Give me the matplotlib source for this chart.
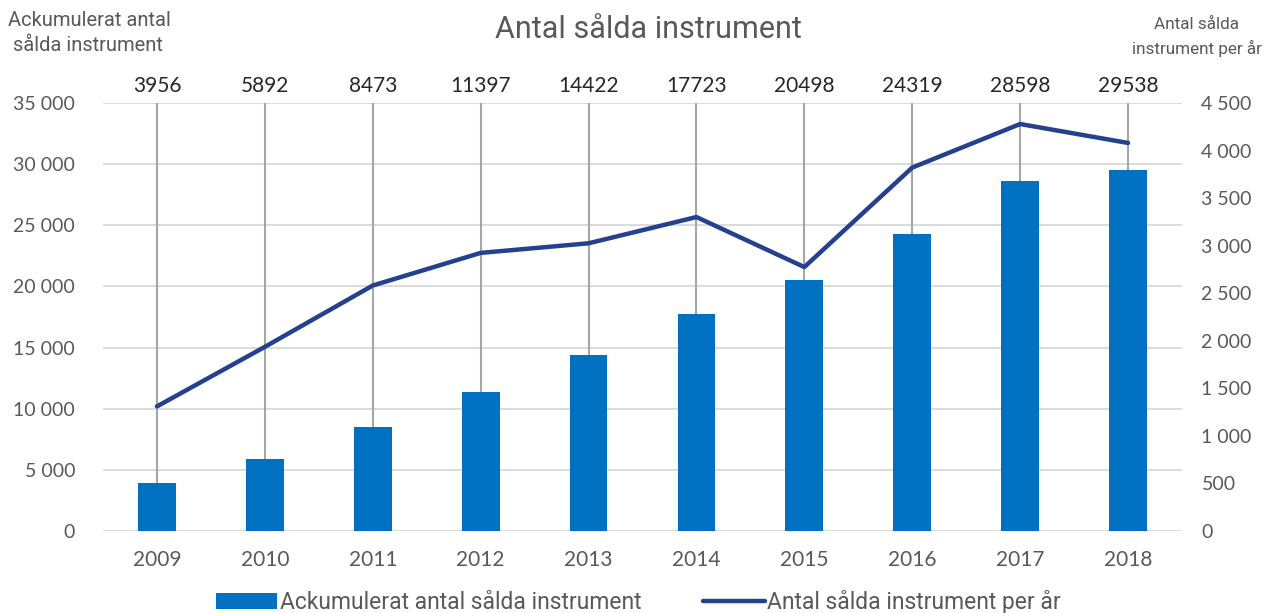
import matplotlib
matplotlib.use("Agg")
import matplotlib.pyplot as plt
from matplotlib.ticker import FuncFormatter, MultipleLocator

years = ["2009", "2010", "2011", "2012", "2013", "2014", "2015", "2016", "2017", "2018"]
cumulative = [3956, 5892, 8473, 11397, 14422, 17723, 20498, 24319, 28598, 29538]
per_year = [1310, 1936, 2581, 2924, 3025, 3301, 2775, 3821, 4279, 4080]

bar_color = "#0070C0"
line_color = "#24408E"
grid_color = "#D9D9D9"
tick_color = "#595959"

fig = plt.figure(figsize=(12.64, 6.13), dpi=100)
ax = fig.add_axes([103/1264, 1-531/613, (1182-103)/1264, (531-103)/613])
ax2 = ax.twinx()

x = list(range(len(years)))
ax.set_xlim(-0.5, len(years) - 0.5)
ax.set_ylim(0, 35000)
ax2.set_ylim(0, 4500)

ax.yaxis.set_major_locator(MultipleLocator(5000))
ax2.yaxis.set_major_locator(MultipleLocator(500))
fmt = FuncFormatter(lambda v, p: f"{int(v):,}".replace(",", " "))
ax.yaxis.set_major_formatter(fmt)
ax2.yaxis.set_major_formatter(fmt)

ax.grid(axis="y", color=grid_color, linewidth=1.3, zorder=0)
ax.set_axisbelow(True)

# drop lines from top to bar tops
ax.vlines(x, cumulative, 35000, color="#A6A6A6", linewidth=1.5, zorder=1)
ax.bar(x, cumulative, width=0.35, color=bar_color, zorder=2,
       label="Ackumulerat antal sålda instrument")
for xi, v in zip(x, cumulative):
    ax.text(xi, 35000 + 600, str(v), ha="center", va="bottom", fontsize=15,
            color="#262626", family="Lato")

ax2.plot(x, per_year, color=line_color, linewidth=3.2, solid_capstyle="round",
         zorder=3, label="Antal sålda instrument per år")

for a in (ax, ax2):
    for s in a.spines.values():
        s.set_visible(False)
    a.tick_params(length=0, labelsize=14, labelcolor=tick_color)
ax.tick_params(axis="y", pad=20)
ax2.tick_params(axis="y", pad=14)
ax.tick_params(axis="x", pad=14, labelsize=15)
ax.set_xticks(x)
ax.set_xticklabels(years)
for lab in ax.get_xticklabels() + ax.get_yticklabels() + ax2.get_yticklabels():
    lab.set_family("Lato")

fig.text(648/1264, 1-30/613, "Antal sålda instrument", ha="center", va="center",
         fontsize=22, color="#595959", family="Roboto")
fig.text(8/1264, 1-33/613, "Ackumulerat antal\n sålda instrument", ha="left", va="center",
         fontsize=14.5, color="#595959", family="Roboto", linespacing=1.4)
fig.text(1197/1264, 1-37/613, "Antal sålda\ninstrument per år", ha="center", va="center",
         fontsize=12.3, color="#595959", family="Roboto", linespacing=1.6)

h1, l1 = ax.get_legend_handles_labels()
h2, l2 = ax2.get_legend_handles_labels()
leg = fig.legend(h1 + h2, l1 + l2, loc="lower center", bbox_to_anchor=(0.505, -0.035),
                 ncol=2, frameon=False, handlelength=2.7, handletextpad=0.1,
                 columnspacing=2.7, prop={"family": "Roboto", "size": 16.5})
for t in leg.get_texts():
    t.set_color("#595959")

fig.savefig("out.png", dpi=100)
